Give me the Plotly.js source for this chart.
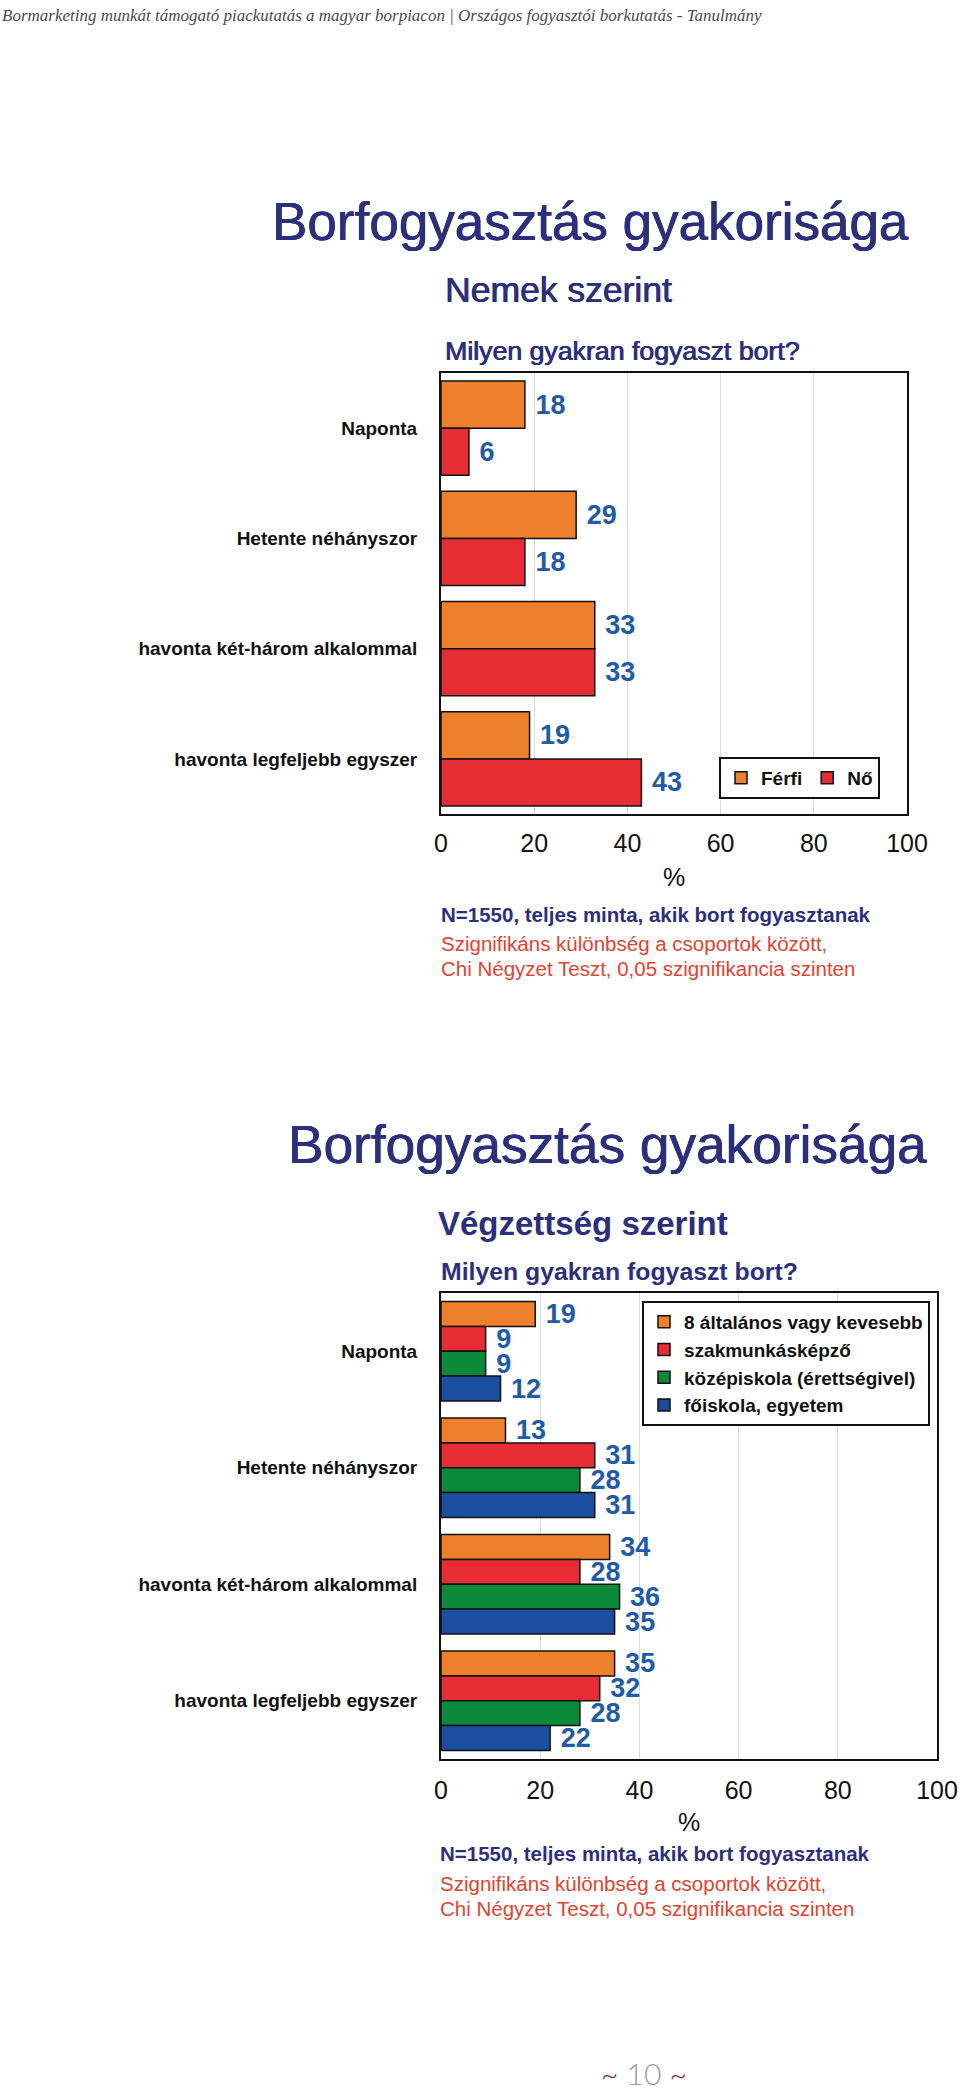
<!DOCTYPE html>
<html>
<head>
<meta charset="utf-8">
<script src="https://cdn.plot.ly/plotly-3.0.1.min.js"></script>
<style>
  html, body { margin: 0; padding: 0; background: #fff; }
  #page { width: 960px; height: 2097px; }
</style>
</head>
<body>
<div id="page"></div>
<script>
// frequency categories (same for both charts)
const categories = ['Naponta', 'Hetente néhányszor', 'havonta két-három alkalommal', 'havonta legfeljebb egyszer'];

// chart 1: by gender
const genderNames = ['Férfi', 'Nő'];
const ferfi = [18, 29, 33, 19];
const no = [6, 18, 33, 43];

// chart 2: by education
const eduNames = ['8 általános vagy kevesebb', 'szakmunkásképző', 'középiskola (érettségivel)', 'főiskola, egyetem'];
const alt8 = [19, 13, 34, 35];
const szakmunkas = [9, 31, 28, 32];
const kozepiskola = [9, 28, 36, 28];
const foiskola = [12, 31, 35, 22];

const xTicks = [0, 20, 40, 60, 80, 100];

const W = 960, H = 2097;
const FONT = 'Liberation Sans, Arial, sans-serif';
const NAVY = '#2b2f7c';
const RED_TXT = '#e2432f';
const VAL_BLUE = '#1f5ba6';
const colors = { orange: '#ee7f2d', red: '#e52d33', green: '#0a8a3a', blue: '#1a4ea0' };
const HEAVY = c => '0.5px 0 0 ' + c + ', -0.3px 0 0 ' + c;

// pixel -> paper helpers
const px = x => x / W;
const py = y => 1 - y / H;

function barTrace(name, values, color, axes, legend) {
    return {
        type: 'bar',
        orientation: 'h',
        name: name,
        x: values,
        y: categories,
        xaxis: axes[0],
        yaxis: axes[1],
        legend: legend,
        marker: { color: color, line: { color: '#111', width: 1.5 } },
        // leading no-break space keeps the label a little off the bar end
        text: values.map(v => '\u00a0' + v),
        textposition: 'outside',
        constraintext: 'none',
        cliponaxis: false,
        textfont: { family: FONT, size: 27, color: VAL_BLUE, weight: 'bold' },
        hoverinfo: 'x+name'
    };
}

const data = [
    barTrace(genderNames[0], ferfi, colors.orange, ['x', 'y'], 'legend'),
    barTrace(genderNames[1], no, colors.red, ['x', 'y'], 'legend'),
    barTrace(eduNames[0], alt8, colors.orange, ['x2', 'y2'], 'legend2'),
    barTrace(eduNames[1], szakmunkas, colors.red, ['x2', 'y2'], 'legend2'),
    barTrace(eduNames[2], kozepiskola, colors.green, ['x2', 'y2'], 'legend2'),
    barTrace(eduNames[3], foiskola, colors.blue, ['x2', 'y2'], 'legend2')
];

function xAxis(left, right, anchor, labelGap, titleGap) {
    return {
        domain: [px(left), px(right)],
        anchor: anchor,
        range: [0, 100],
        tickvals: xTicks,
        ticks: '',
        showgrid: true,
        gridcolor: '#dcdcdc',
        gridwidth: 1,
        zeroline: false,
        showline: true,
        mirror: true,
        linecolor: '#111',
        linewidth: 2,
        ticklabelstandoff: labelGap,
        ticklabeloverflow: 'allow',
        tickfont: { family: FONT, size: 25, color: '#111' },
        title: { text: '%', font: { family: FONT, size: 25, color: '#111' }, standoff: titleGap },
        fixedrange: true
    };
}

function yAxis(top, bottom, anchor) {
    return {
        domain: [py(bottom), py(top)],
        anchor: anchor,
        type: 'category',
        autorange: 'reversed',
        ticks: '',
        showgrid: false,
        showline: true,
        mirror: true,
        linecolor: '#111',
        linewidth: 2,
        ticklabelstandoff: 18,
        tickfont: { family: FONT, size: 19, color: '#111', weight: 'bold' },
        fixedrange: true
    };
}

function note(text, x, y, font, extra) {
    return Object.assign({
        xref: 'paper', yref: 'paper',
        x: px(x), y: py(y),
        xanchor: 'left', yanchor: 'middle',
        text: text, showarrow: false,
        font: Object.assign({ family: FONT }, font)
    }, extra || {});
}

const annotations = [
    // header line
    note('Bormarketing munkát támogató piackutatás a magyar borpiacon <span style="color:#8a1c3c">|</span> Országos fogyasztói borkutatás - Tanulmány',
        0, 16, { family: 'Liberation Serif, serif', size: 17, color: '#4a4a4a', style: 'italic' }),

    // chart 1 texts
    note('Borfogyasztás gyakorisága', 270, 221, { size: 53, color: NAVY, shadow: HEAVY(NAVY) }),
    note('Nemek szerint', 443, 290, { size: 35.5, color: NAVY, shadow: HEAVY(NAVY) }),
    note('Milyen gyakran fogyaszt bort?', 443, 351, { size: 26.7, color: NAVY, shadow: HEAVY(NAVY) }),
    note('N=1550, teljes minta, akik bort fogyasztanak', 439, 914, { size: 20.5, color: NAVY, weight: 'bold' }),
    note('Szignifikáns különbség a csoportok között,', 439, 943, { size: 20.5, color: RED_TXT }),
    note('Chi Négyzet Teszt, 0,05 szignifikancia szinten', 439, 968, { size: 20.5, color: RED_TXT }),

    // chart 2 texts
    note('Borfogyasztás gyakorisága', 286, 1144, { size: 53.2, color: NAVY, shadow: HEAVY(NAVY) }),
    note('Végzettség szerint', 436, 1223, { size: 33, color: NAVY, weight: 'bold' }),
    note('Milyen gyakran fogyaszt bort?', 439, 1271, { size: 24.8, color: NAVY, weight: 'bold' }),
    note('N=1550, teljes minta, akik bort fogyasztanak', 438, 1853, { size: 20.5, color: NAVY, weight: 'bold' }),
    note('Szignifikáns különbség a csoportok között,', 438, 1883, { size: 20.5, color: RED_TXT }),
    note('Chi Négyzet Teszt, 0,05 szignifikancia szinten', 438, 1908, { size: 20.5, color: RED_TXT }),

    // page number
    note('<span style="color:#8a1c3c">~</span> 10 <span style="color:#8a1c3c">~</span>', 644, 2073,
        { family: 'Lato, sans-serif', size: 30, color: '#9a9a9a', weight: 300 }, { xanchor: 'center' })
];

const legendBase = {
    xanchor: 'left', yanchor: 'top',
    bgcolor: '#fff',
    bordercolor: '#111',
    borderwidth: 2,
    tracegroupgap: 0,
    font: { family: FONT, size: 19, color: '#111', weight: 'bold' },
    itemclick: false, itemdoubleclick: false
};

const layout = {
    width: W,
    height: H,
    margin: { l: 0, r: 0, t: 0, b: 0 },
    paper_bgcolor: '#fff',
    plot_bgcolor: '#fff',
    font: { family: FONT, color: '#111' },
    barmode: 'group',
    bargap: 0.146,
    bargroupgap: 0,
    xaxis: xAxis(441, 907, 'y', 6, 12),
    yaxis: yAxis(373, 814, 'x'),
    xaxis2: xAxis(441, 937, 'y2', 8, 10),
    yaxis2: yAxis(1293, 1759, 'x2'),
    legend: Object.assign({}, legendBase, { orientation: 'h', x: px(719), y: py(757) }),
    legend2: Object.assign({}, legendBase, { orientation: 'v', x: px(642), y: py(1301) }),
    annotations: annotations,
    showlegend: true
};

Plotly.newPlot('page', data, layout, { displayModeBar: false, staticPlot: true });
</script>
</body>
</html>
